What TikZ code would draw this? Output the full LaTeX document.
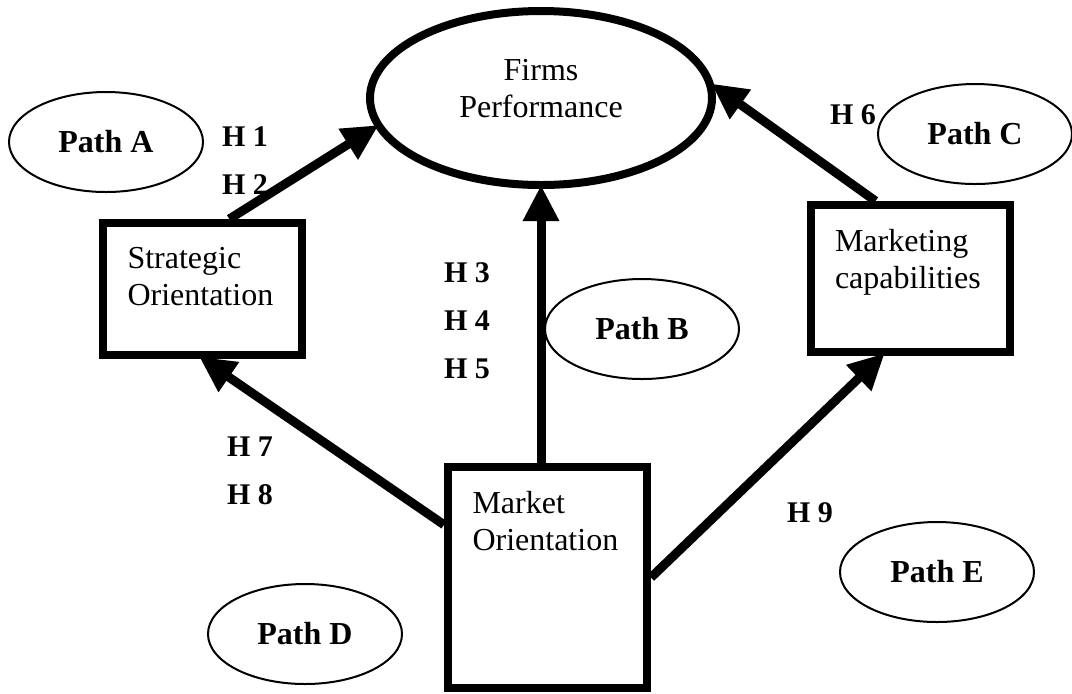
\documentclass[tikz,border=0pt]{standalone}
\usepackage{fontspec}
\setmainfont{Liberation Serif}
\usepackage{tikz}
\usetikzlibrary{positioning,arrows.meta,shapes.geometric}
\newcommand*{\BoxTextSkip}{12pt}
\newcommand*{\TopText}[2]{\parbox[c][#1][t]{75pt}{\vspace*{\BoxTextSkip}\raggedright #2}}
\tikzset{
  construct/.style={draw, rectangle, line width=4pt, minimum width=99.5pt,
    inner xsep=12pt, inner ysep=0pt, font=\fontsize{16}{18.5}\selectfont},
  outcome/.style={draw, ellipse, line width=4pt, minimum width=171pt,
    minimum height=87pt, align=center, text depth=10pt,
    font=\fontsize{16}{18.5}\selectfont},
  pathtag/.style={draw, ellipse, line width=1pt, minimum width=97pt,
    minimum height=50pt, font=\bfseries\fontsize{16}{18.5}\selectfont},
  hyp/.style={font=\bfseries\fontsize{15}{18}\selectfont},
  link/.style={->, line width=4.5pt, shorten >=-2pt}
}

\begin{document}
\begin{tikzpicture}[x=0.5pt,y=-0.5pt,node distance=24pt,>={Triangle[length=18pt,width=17pt]}]
	\useasboundingbox (0,0) rectangle (1072,693);
	\node[outcome] (firms) at (541,98) {Firms\\Performance};
	\node[construct] (strat) at (202.5,289) {\TopText{66pt}{Strategic\\Orientation}};
	\node[construct] (mktcap) at (910,278.5) {\TopText{73.5pt}{Marketing\\capabilities}};
	\node[construct] (mktor) at (547.5,577.5) {\TopText{110.5pt}{Market\\Orientation}};

	% path ellipses
	\node[pathtag] (patha) at (106,142) {Path A};
	\node[pathtag] (pathb) at (642,329) {Path B};
	\node[pathtag] (pathc) at (975,134) {Path C};
	\node[pathtag] (pathd) at (305,634) {Path D};
	\node[pathtag] (pathe) at (937,572) {Path E};

	% hypotheses
	\node[hyp] (h1) at (245,137) {H 1};
	\node[hyp, below of=h1] (h2) {H 2};
	\node[hyp] (h3) at (467,273) {H 3};
	\node[hyp, below of=h3] (h4) {H 4};
	\node[hyp, below of=h4] (h5) {H 5};
	\node[hyp] (h6) at (853,115) {H 6};
	\node[hyp] (h7) at (250,447) {H 7};
	\node[hyp, below of=h7] (h8) {H 8};
	\node[hyp] (h9) at (810,513) {H 9};

	% links into firms performance
	\draw[link] (strat.69) -- (firms.190);
	\draw[link] (firms.south |- mktor.north) -- (firms.south);
	\draw[link] (mktcap.114) -- (firms.4);

	% links out of market orientation
	\draw[link] (mktor.153) -- (strat.south);
	\draw[link] (mktor.east) -- (mktcap.250);
\end{tikzpicture}
\end{document}
